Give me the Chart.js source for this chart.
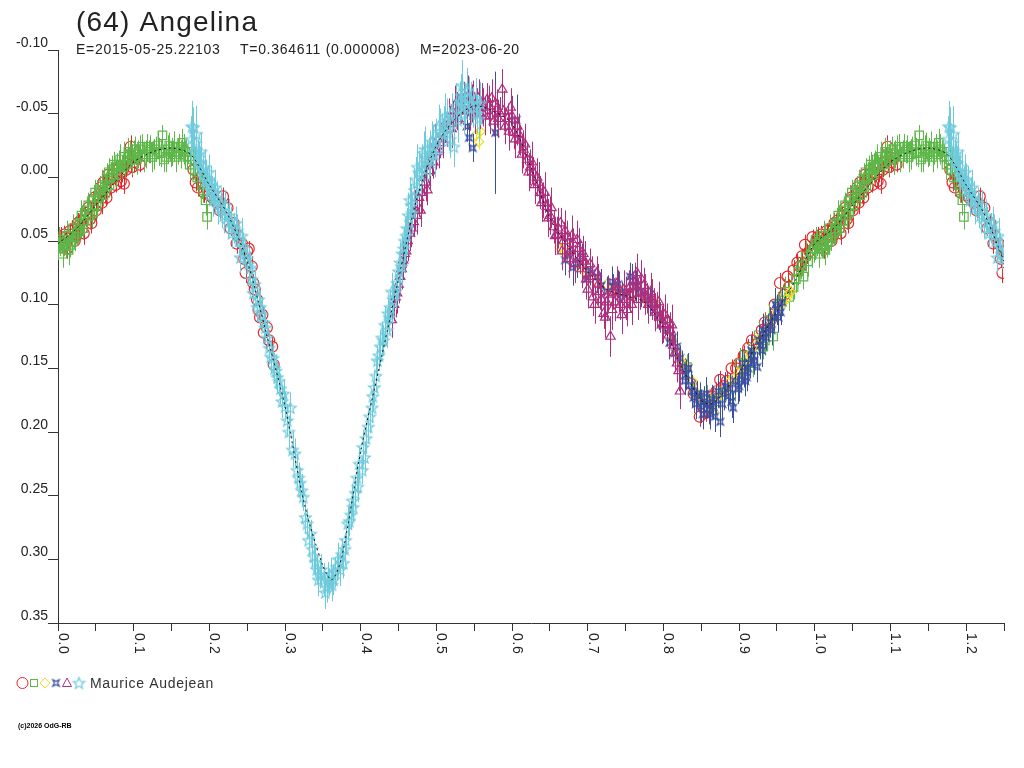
<!DOCTYPE html>
<html>
<head>
<meta charset="utf-8">
<script src="https://cdn.jsdelivr.net/npm/chart.js@4.4.1/dist/chart.umd.min.js"></script>
<style>
  html, body { margin: 0; padding: 0; background: #fff; }
  canvas { display: block; }
</style>
</head>
<body>
<canvas id="curva" width="1024" height="768"></canvas>
<script>
const titulo = '(64) Angelina';
const subtitulo = ['E=2015-05-25.22103', 'T=0.364611 (0.000008)', 'M=2023-06-20'];
const observador = 'Maurice Audejean';
const rodape = '(c)2026 OdG-RB';

const rotulosX = ['0.0', '0.1', '0.2', '0.3', '0.4', '0.5', '0.6', '0.7', '0.8', '0.9', '1.0', '1.1', '1.2'];

// curva ajustada (fase, magnitude)
const ajusteFase = [0, 0.025, 0.05, 0.075, 0.1, 0.125, 0.15, 0.175, 0.2, 0.225, 0.25, 0.275, 0.3, 0.325, 0.35, 0.362, 0.375, 0.4, 0.425, 0.45, 0.475, 0.5, 0.525, 0.55, 0.575, 0.6, 0.625, 0.65, 0.675, 0.7, 0.725, 0.75, 0.775, 0.8, 0.825, 0.85, 0.862, 0.875, 0.9, 0.925, 0.95, 0.975, 1.0];
const ajusteMag = [0.052, 0.040, 0.022, 0.004, -0.012, -0.020, -0.023, -0.018, 0.006, 0.030, 0.066, 0.122, 0.180, 0.255, 0.305, 0.316, 0.298, 0.215, 0.148, 0.080, 0.015, -0.025, -0.046, -0.056, -0.052, -0.042, -0.008, 0.032, 0.055, 0.074, 0.088, 0.093, 0.098, 0.118, 0.150, 0.175, 0.178, 0.172, 0.153, 0.130, 0.105, 0.080, 0.052];

// sessões: [fase, magnitude, erro]
const sessaoVermelha = [
  [0.002, 0.050, 0.006], [0.004, 0.047, 0.008], [0.006, 0.055, 0.006], [0.010, 0.052, 0.007], [0.014, 0.048, 0.006],
  [0.018, 0.045, 0.008], [0.020, 0.041, 0.007], [0.024, 0.046, 0.006], [0.028, 0.038, 0.008], [0.030, 0.034, 0.007],
  [0.034, 0.044, 0.009], [0.036, 0.030, 0.007], [0.040, 0.024, 0.006], [0.042, 0.033, 0.008], [0.046, 0.018, 0.007],
  [0.050, 0.026, 0.008], [0.054, 0.014, 0.006], [0.058, 0.020, 0.009], [0.060, 0.004, 0.007], [0.062, 0.012, 0.008],
  [0.066, -0.002, 0.006], [0.070, 0.008, 0.007], [0.074, -0.006, 0.008], [0.078, -0.003, 0.007], [0.083, 0.003, 0.006],
  [0.087, 0.005, 0.008], [0.092, -0.012, 0.007], [0.096, -0.024, 0.009], [0.098, -0.008, 0.008], [0.104, -0.015, 0.007],
  [0.108, -0.010, 0.006], [0.179, -0.006, 0.008], [0.182, 0.004, 0.007], [0.188, 0.000, 0.006], [0.193, 0.012, 0.008],
  [0.197, 0.010, 0.007], [0.204, 0.016, 0.006], [0.210, 0.020, 0.008], [0.218, 0.015, 0.007], [0.224, 0.024, 0.008],
  [0.232, 0.036, 0.007], [0.238, 0.046, 0.006], [0.243, 0.052, 0.007], [0.248, 0.075, 0.008], [0.250, 0.058, 0.007],
  [0.252, 0.056, 0.006], [0.256, 0.070, 0.008], [0.258, 0.083, 0.007], [0.263, 0.096, 0.008], [0.267, 0.110, 0.007],
  [0.270, 0.108, 0.008], [0.272, 0.122, 0.007], [0.276, 0.118, 0.006], [0.283, 0.133, 0.008], [0.285, 0.147, 0.007],
  [0.008, 0.045, 0.007], [0.012, 0.056, 0.008], [0.016, 0.042, 0.006], [0.022, 0.050, 0.007], [0.026, 0.036, 0.008],
  [0.032, 0.040, 0.006], [0.038, 0.028, 0.007], [0.044, 0.036, 0.008], [0.048, 0.016, 0.006], [0.052, 0.022, 0.007],
  [0.056, 0.008, 0.008], [0.064, 0.016, 0.006], [0.068, 0.002, 0.007], [0.072, -0.002, 0.008], [0.076, 0.006, 0.006],
  [0.080, -0.008, 0.007], [0.085, -0.004, 0.008], [0.090, -0.006, 0.006], [0.094, -0.016, 0.007], [0.101, -0.012, 0.008],
  [0.185, 0.008, 0.007], [0.190, 0.004, 0.006], [0.200, 0.014, 0.008], [0.214, 0.026, 0.007], [0.228, 0.040, 0.006],
  [0.236, 0.052, 0.008], [0.246, 0.064, 0.007], [0.260, 0.088, 0.006], [0.265, 0.104, 0.008], [0.279, 0.128, 0.007],
  [0.828, 0.150, 0.008], [0.840, 0.170, 0.007], [0.848, 0.188, 0.008], [0.856, 0.185, 0.007], [0.865, 0.172, 0.008],
  [0.875, 0.159, 0.007], [0.884, 0.160, 0.008], [0.896, 0.150, 0.007], [0.906, 0.140, 0.008], [0.917, 0.128, 0.007],
  [0.925, 0.130, 0.006], [0.934, 0.114, 0.008], [0.942, 0.112, 0.007], [0.954, 0.083, 0.008], [0.960, 0.092, 0.007],
  [0.966, 0.086, 0.006], [0.972, 0.073, 0.008], [0.977, 0.067, 0.007], [0.983, 0.062, 0.006], [0.987, 0.053, 0.008],
  [0.993, 0.058, 0.007], [0.997, 0.047, 0.006], [0.836, 0.162, 0.007], [0.852, 0.180, 0.008], [0.870, 0.168, 0.007],
  [0.880, 0.164, 0.008], [0.890, 0.150, 0.007], [0.900, 0.146, 0.008], [0.912, 0.134, 0.007], [0.930, 0.120, 0.008],
  [0.947, 0.100, 0.007], [0.964, 0.078, 0.008], [0.980, 0.070, 0.007], [0.990, 0.060, 0.008]
];

const sessaoVerde = [
  [0.000, 0.056, 0.009], [0.003, 0.052, 0.010], [0.006, 0.060, 0.011], [0.010, 0.054, 0.009], [0.014, 0.057, 0.012],
  [0.018, 0.050, 0.010], [0.022, 0.047, 0.011], [0.025, 0.044, 0.010], [0.029, 0.036, 0.012], [0.033, 0.040, 0.009],
  [0.038, 0.026, 0.011], [0.042, 0.030, 0.010], [0.047, 0.018, 0.012], [0.051, 0.022, 0.010], [0.056, 0.010, 0.011],
  [0.060, 0.014, 0.009], [0.065, 0.001, 0.012], [0.068, 0.006, 0.010], [0.072, -0.006, 0.011], [0.076, -0.002, 0.010],
  [0.080, -0.010, 0.011], [0.084, -0.008, 0.009], [0.087, -0.016, 0.012], [0.091, -0.012, 0.010], [0.095, -0.018, 0.011],
  [0.100, -0.019, 0.010], [0.104, -0.014, 0.012], [0.108, -0.022, 0.011], [0.111, -0.024, 0.010], [0.116, -0.018, 0.011],
  [0.120, -0.020, 0.009], [0.124, -0.016, 0.012], [0.129, -0.022, 0.010], [0.134, -0.020, 0.011], [0.138, -0.033, 0.008],
  [0.140, -0.014, 0.010], [0.145, -0.022, 0.011], [0.149, -0.018, 0.010], [0.153, -0.024, 0.012], [0.158, -0.020, 0.010],
  [0.164, -0.027, 0.011], [0.168, -0.020, 0.009], [0.171, -0.016, 0.010], [0.174, -0.010, 0.012], [0.178, -0.014, 0.011],
  [0.184, 0.000, 0.010], [0.190, 0.006, 0.011], [0.195, 0.018, 0.012], [0.197, 0.031, 0.010],
  [0.001, 0.049, 0.010], [0.008, 0.051, 0.011], [0.012, 0.046, 0.012], [0.016, 0.053, 0.010], [0.020, 0.040, 0.011],
  [0.027, 0.042, 0.010], [0.031, 0.030, 0.012], [0.035, 0.034, 0.011], [0.040, 0.022, 0.010], [0.045, 0.028, 0.012],
  [0.049, 0.012, 0.010], [0.053, 0.016, 0.011], [0.058, 0.006, 0.012], [0.062, 0.008, 0.010], [0.067, -0.004, 0.011],
  [0.070, 0.000, 0.012], [0.074, -0.010, 0.010], [0.078, -0.008, 0.011], [0.082, -0.014, 0.012], [0.089, -0.010, 0.010],
  [0.093, -0.020, 0.011], [0.098, -0.014, 0.012], [0.102, -0.022, 0.010], [0.106, -0.018, 0.011], [0.113, -0.016, 0.012],
  [0.118, -0.024, 0.010], [0.122, -0.022, 0.011], [0.127, -0.018, 0.012], [0.132, -0.025, 0.010], [0.136, -0.019, 0.011],
  [0.143, -0.016, 0.012], [0.147, -0.025, 0.010], [0.151, -0.020, 0.011], [0.156, -0.016, 0.012], [0.160, -0.024, 0.010],
  [0.162, -0.018, 0.011], [0.166, -0.022, 0.012], [0.176, -0.020, 0.010], [0.181, -0.006, 0.011], [0.187, -0.004, 0.012],
  [0.192, 0.010, 0.010],
  [0.831, 0.149, 0.010], [0.858, 0.174, 0.011], [0.870, 0.176, 0.010], [0.894, 0.165, 0.011], [0.901, 0.146, 0.012],
  [0.908, 0.150, 0.010], [0.919, 0.146, 0.011], [0.932, 0.133, 0.010], [0.934, 0.128, 0.012], [0.945, 0.125, 0.011],
  [0.952, 0.100, 0.010], [0.961, 0.090, 0.012], [0.966, 0.094, 0.011], [0.972, 0.086, 0.010], [0.978, 0.074, 0.011],
  [0.985, 0.078, 0.010], [0.991, 0.066, 0.012], [0.996, 0.060, 0.011], [0.880, 0.168, 0.011], [0.912, 0.140, 0.010],
  [0.926, 0.124, 0.011], [0.940, 0.112, 0.012], [0.956, 0.097, 0.010], [0.975, 0.080, 0.011], [0.982, 0.070, 0.010],
  [0.988, 0.062, 0.012], [0.999, 0.056, 0.011]
];

const sessaoAmarela = [
  [0.552, -0.033, 0.005], [0.556, -0.028, 0.006], [0.558, -0.036, 0.005], [0.663, 0.055, 0.006], [0.672, 0.060, 0.005],
  [0.690, 0.070, 0.006], [0.712, 0.082, 0.005], [0.735, 0.088, 0.006], [0.760, 0.092, 0.005], [0.790, 0.100, 0.006],
  [0.812, 0.128, 0.005], [0.826, 0.146, 0.006], [0.838, 0.160, 0.005], [0.846, 0.172, 0.006], [0.852, 0.178, 0.005],
  [0.861, 0.180, 0.006], [0.870, 0.172, 0.005], [0.882, 0.168, 0.006], [0.893, 0.158, 0.005], [0.905, 0.150, 0.006],
  [0.916, 0.138, 0.005], [0.928, 0.126, 0.006], [0.940, 0.118, 0.005], [0.951, 0.105, 0.006], [0.962, 0.096, 0.005],
  [0.818, 0.138, 0.005], [0.842, 0.168, 0.006], [0.856, 0.172, 0.005], [0.866, 0.184, 0.006], [0.876, 0.170, 0.005],
  [0.888, 0.160, 0.006], [0.900, 0.152, 0.005], [0.910, 0.144, 0.006], [0.922, 0.132, 0.005], [0.934, 0.124, 0.006],
  [0.946, 0.110, 0.005], [0.956, 0.100, 0.006], [0.968, 0.090, 0.005], [0.700, 0.076, 0.006], [0.725, 0.084, 0.005],
  [0.748, 0.090, 0.006], [0.775, 0.096, 0.005], [0.800, 0.112, 0.006]
];

const sessaoAzul = [
  [0.532, -0.063, 0.012], [0.536, -0.052, 0.010], [0.540, -0.040, 0.012], [0.543, -0.031, 0.010], [0.548, -0.023, 0.011],
  [0.578, -0.035, 0.048], [0.606, -0.045, 0.020], [0.670, 0.065, 0.012], [0.680, 0.071, 0.014], [0.692, 0.062, 0.010],
  [0.703, 0.073, 0.012], [0.706, 0.075, 0.011], [0.718, 0.085, 0.013], [0.732, 0.082, 0.012], [0.734, 0.086, 0.010],
  [0.745, 0.094, 0.012], [0.756, 0.078, 0.011], [0.758, 0.081, 0.013], [0.770, 0.090, 0.012], [0.782, 0.098, 0.011],
  [0.794, 0.108, 0.012], [0.805, 0.120, 0.013], [0.812, 0.126, 0.011], [0.818, 0.133, 0.012], [0.822, 0.142, 0.010],
  [0.825, 0.149, 0.013], [0.830, 0.155, 0.012], [0.836, 0.163, 0.011], [0.840, 0.173, 0.012], [0.845, 0.170, 0.010],
  [0.850, 0.180, 0.013], [0.854, 0.176, 0.012], [0.858, 0.178, 0.011], [0.862, 0.186, 0.012], [0.866, 0.180, 0.010],
  [0.870, 0.175, 0.011], [0.875, 0.192, 0.012], [0.880, 0.170, 0.013], [0.885, 0.172, 0.011], [0.892, 0.181, 0.012],
  [0.895, 0.160, 0.011], [0.898, 0.166, 0.012], [0.902, 0.159, 0.010], [0.906, 0.152, 0.013], [0.910, 0.157, 0.011],
  [0.914, 0.146, 0.012], [0.918, 0.140, 0.010], [0.924, 0.149, 0.012], [0.928, 0.132, 0.011], [0.932, 0.120, 0.013],
  [0.936, 0.126, 0.010], [0.941, 0.114, 0.012], [0.946, 0.110, 0.011], [0.950, 0.104, 0.012], [0.955, 0.106, 0.010],
  [0.675, 0.060, 0.012], [0.686, 0.068, 0.011], [0.698, 0.080, 0.012], [0.712, 0.078, 0.013], [0.725, 0.090, 0.012],
  [0.740, 0.084, 0.011], [0.750, 0.090, 0.012], [0.764, 0.086, 0.013], [0.776, 0.094, 0.012], [0.788, 0.100, 0.011],
  [0.800, 0.112, 0.012], [0.808, 0.130, 0.013], [0.815, 0.138, 0.012], [0.828, 0.160, 0.011], [0.833, 0.150, 0.012],
  [0.838, 0.168, 0.013], [0.843, 0.178, 0.012], [0.848, 0.172, 0.011], [0.852, 0.186, 0.012], [0.856, 0.170, 0.013],
  [0.860, 0.182, 0.012], [0.864, 0.174, 0.011], [0.868, 0.188, 0.012], [0.872, 0.168, 0.013], [0.878, 0.178, 0.012],
  [0.882, 0.164, 0.011], [0.888, 0.166, 0.012], [0.890, 0.176, 0.013], [0.900, 0.164, 0.012], [0.904, 0.146, 0.011],
  [0.908, 0.160, 0.012], [0.912, 0.150, 0.013], [0.916, 0.136, 0.012], [0.920, 0.144, 0.011], [0.926, 0.128, 0.012],
  [0.930, 0.136, 0.013], [0.934, 0.122, 0.012], [0.938, 0.118, 0.011], [0.943, 0.120, 0.012], [0.948, 0.100, 0.013],
  [0.952, 0.110, 0.012], [0.957, 0.098, 0.011]
];

const sessaoMagenta = [
  [0.441, 0.112, 0.014], [0.444, 0.100, 0.013], [0.448, 0.091, 0.016], [0.452, 0.078, 0.012], [0.456, 0.065, 0.015],
  [0.460, 0.058, 0.013], [0.465, 0.044, 0.014], [0.470, 0.035, 0.012], [0.474, 0.030, 0.015], [0.479, 0.026, 0.013],
  [0.483, 0.000, 0.014], [0.488, 0.010, 0.012], [0.492, -0.005, 0.015], [0.496, -0.012, 0.013], [0.500, -0.020, 0.014],
  [0.505, -0.027, 0.012], [0.509, -0.030, 0.015], [0.514, -0.037, 0.013], [0.518, -0.042, 0.014], [0.522, -0.048, 0.012],
  [0.527, -0.052, 0.015], [0.531, -0.055, 0.013], [0.536, -0.061, 0.014], [0.540, -0.058, 0.012], [0.545, -0.052, 0.015],
  [0.549, -0.063, 0.013], [0.553, -0.056, 0.014], [0.558, -0.050, 0.012], [0.562, -0.055, 0.015], [0.567, -0.061, 0.013],
  [0.571, -0.048, 0.014], [0.576, -0.044, 0.012], [0.580, -0.054, 0.015], [0.584, -0.050, 0.013], [0.587, -0.069, 0.016],
  [0.591, -0.040, 0.014], [0.594, -0.046, 0.012], [0.598, -0.055, 0.015], [0.602, -0.035, 0.013], [0.607, -0.040, 0.014],
  [0.611, -0.029, 0.012], [0.615, -0.022, 0.015], [0.620, -0.014, 0.013], [0.624, -0.008, 0.014], [0.628, -0.004, 0.012],
  [0.633, 0.000, 0.015], [0.637, 0.012, 0.013], [0.641, 0.018, 0.014], [0.646, 0.023, 0.012], [0.650, 0.030, 0.015],
  [0.655, 0.039, 0.013], [0.659, 0.045, 0.014], [0.664, 0.036, 0.012], [0.668, 0.050, 0.015], [0.673, 0.047, 0.013],
  [0.677, 0.058, 0.014], [0.681, 0.052, 0.012], [0.686, 0.049, 0.015], [0.690, 0.063, 0.013], [0.694, 0.060, 0.014],
  [0.698, 0.080, 0.016], [0.703, 0.068, 0.012], [0.707, 0.094, 0.015], [0.712, 0.075, 0.013], [0.716, 0.090, 0.014],
  [0.721, 0.107, 0.012], [0.725, 0.098, 0.015], [0.730, 0.125, 0.016], [0.734, 0.091, 0.013], [0.738, 0.084, 0.014],
  [0.743, 0.100, 0.012], [0.748, 0.088, 0.015], [0.752, 0.104, 0.013], [0.756, 0.092, 0.014], [0.760, 0.086, 0.012],
  [0.765, 0.075, 0.015], [0.769, 0.091, 0.013], [0.774, 0.085, 0.014], [0.778, 0.095, 0.012], [0.783, 0.090, 0.015],
  [0.787, 0.100, 0.013], [0.792, 0.104, 0.014], [0.796, 0.110, 0.012], [0.800, 0.115, 0.015], [0.805, 0.112, 0.013],
  [0.809, 0.120, 0.014], [0.813, 0.132, 0.016], [0.818, 0.146, 0.015], [0.822, 0.168, 0.014],
  [0.446, 0.094, 0.016], [0.450, 0.084, 0.015], [0.454, 0.072, 0.016], [0.458, 0.060, 0.015], [0.462, 0.050, 0.016],
  [0.467, 0.040, 0.015], [0.472, 0.026, 0.016], [0.477, 0.016, 0.015], [0.481, 0.012, 0.016], [0.486, 0.004, 0.015],
  [0.490, -0.010, 0.016], [0.494, -0.016, 0.015], [0.498, -0.026, 0.016], [0.503, -0.022, 0.015], [0.507, -0.034, 0.016],
  [0.511, -0.042, 0.015], [0.516, -0.046, 0.016], [0.520, -0.038, 0.015], [0.524, -0.056, 0.016], [0.529, -0.046, 0.015],
  [0.533, -0.058, 0.016], [0.538, -0.052, 0.015], [0.542, -0.064, 0.016], [0.547, -0.058, 0.015], [0.551, -0.050, 0.016],
  [0.556, -0.062, 0.015], [0.560, -0.058, 0.016], [0.564, -0.048, 0.015], [0.569, -0.056, 0.016], [0.573, -0.062, 0.015],
  [0.578, -0.058, 0.016], [0.582, -0.046, 0.015], [0.589, -0.052, 0.016], [0.596, -0.036, 0.015], [0.600, -0.048, 0.016],
  [0.604, -0.030, 0.015], [0.609, -0.034, 0.016], [0.613, -0.018, 0.015], [0.617, -0.026, 0.016], [0.622, -0.004, 0.015],
  [0.626, -0.012, 0.016], [0.630, 0.006, 0.015], [0.635, 0.004, 0.016], [0.639, 0.020, 0.015], [0.643, 0.012, 0.016],
  [0.648, 0.032, 0.015], [0.652, 0.024, 0.016], [0.657, 0.046, 0.015], [0.661, 0.040, 0.016], [0.666, 0.058, 0.015],
  [0.670, 0.042, 0.016], [0.675, 0.064, 0.015], [0.679, 0.046, 0.016], [0.683, 0.068, 0.015], [0.688, 0.056, 0.016],
  [0.692, 0.072, 0.015], [0.696, 0.066, 0.016], [0.700, 0.088, 0.015], [0.705, 0.078, 0.016], [0.709, 0.100, 0.015],
  [0.714, 0.084, 0.016], [0.718, 0.096, 0.015], [0.723, 0.110, 0.016], [0.727, 0.092, 0.015], [0.732, 0.104, 0.016],
  [0.736, 0.098, 0.015], [0.741, 0.090, 0.016], [0.745, 0.108, 0.015], [0.750, 0.096, 0.016], [0.754, 0.088, 0.015],
  [0.758, 0.100, 0.016], [0.763, 0.082, 0.015], [0.767, 0.096, 0.016], [0.771, 0.080, 0.015], [0.776, 0.092, 0.016],
  [0.780, 0.100, 0.015], [0.785, 0.096, 0.016], [0.789, 0.106, 0.015], [0.794, 0.098, 0.016], [0.798, 0.116, 0.015],
  [0.802, 0.108, 0.016], [0.807, 0.124, 0.015], [0.811, 0.116, 0.016], [0.815, 0.138, 0.015], [0.820, 0.152, 0.016]
];

const sessaoCiano = [
  [0.176, -0.030, 0.018], [0.179, -0.039, 0.016], [0.182, -0.027, 0.014], [0.185, -0.018, 0.012], [0.188, -0.011, 0.013],
  [0.191, -0.005, 0.012], [0.194, -0.008, 0.014], [0.197, 0.004, 0.012], [0.200, 0.002, 0.013], [0.203, 0.010, 0.011],
  [0.206, 0.012, 0.012], [0.210, 0.016, 0.013], [0.215, 0.020, 0.012], [0.219, 0.030, 0.014], [0.224, 0.036, 0.012],
  [0.228, 0.034, 0.011], [0.233, 0.040, 0.012], [0.237, 0.042, 0.013], [0.241, 0.063, 0.012], [0.245, 0.055, 0.011],
  [0.250, 0.064, 0.012], [0.254, 0.071, 0.013], [0.258, 0.091, 0.012], [0.263, 0.102, 0.011], [0.267, 0.102, 0.013],
  [0.272, 0.114, 0.012], [0.276, 0.126, 0.011], [0.281, 0.141, 0.013], [0.286, 0.150, 0.012], [0.290, 0.157, 0.013],
  [0.294, 0.166, 0.012], [0.298, 0.170, 0.011], [0.303, 0.191, 0.013], [0.307, 0.181, 0.012], [0.310, 0.214, 0.014],
  [0.313, 0.217, 0.012], [0.316, 0.230, 0.013], [0.320, 0.240, 0.012], [0.324, 0.251, 0.011], [0.327, 0.267, 0.013],
  [0.331, 0.285, 0.012], [0.334, 0.280, 0.011], [0.338, 0.298, 0.013], [0.342, 0.308, 0.012], [0.346, 0.312, 0.011],
  [0.351, 0.316, 0.013], [0.355, 0.322, 0.012], [0.358, 0.318, 0.011], [0.361, 0.312, 0.013], [0.364, 0.316, 0.012],
  [0.368, 0.306, 0.011], [0.373, 0.308, 0.013], [0.377, 0.303, 0.012], [0.380, 0.285, 0.011], [0.383, 0.272, 0.013],
  [0.387, 0.265, 0.012], [0.390, 0.259, 0.011], [0.393, 0.248, 0.013], [0.396, 0.243, 0.012], [0.402, 0.230, 0.011],
  [0.403, 0.212, 0.014], [0.407, 0.205, 0.012], [0.410, 0.196, 0.013], [0.415, 0.181, 0.012], [0.418, 0.165, 0.014],
  [0.422, 0.144, 0.012], [0.426, 0.133, 0.013], [0.430, 0.128, 0.012], [0.435, 0.120, 0.014], [0.436, 0.107, 0.012],
  [0.439, 0.102, 0.013], [0.443, 0.096, 0.015], [0.448, 0.083, 0.014], [0.452, 0.067, 0.016], [0.455, 0.060, 0.015],
  [0.458, 0.050, 0.017], [0.461, 0.040, 0.016], [0.465, 0.018, 0.018], [0.468, 0.028, 0.016], [0.471, 0.010, 0.017],
  [0.475, -0.008, 0.018], [0.479, -0.002, 0.016], [0.483, -0.019, 0.017], [0.487, -0.012, 0.016], [0.492, -0.019, 0.018],
  [0.496, -0.024, 0.017], [0.500, -0.030, 0.016], [0.505, -0.036, 0.018], [0.510, -0.040, 0.016], [0.514, -0.045, 0.017],
  [0.518, -0.030, 0.015], [0.523, -0.024, 0.016], [0.528, -0.045, 0.018], [0.531, -0.060, 0.015], [0.534, -0.072, 0.020],
  [0.538, -0.058, 0.016], [0.543, -0.062, 0.017], [0.549, -0.055, 0.016], [0.554, -0.050, 0.015], [0.558, -0.058, 0.017],
  [0.177, -0.040, 0.020], [0.180, -0.020, 0.018], [0.183, -0.034, 0.022], [0.186, -0.012, 0.016], [0.189, -0.020, 0.015],
  [0.192, -0.002, 0.014], [0.195, 0.002, 0.016], [0.199, -0.004, 0.014], [0.202, 0.006, 0.015], [0.205, 0.018, 0.013],
  [0.208, 0.008, 0.014], [0.212, 0.024, 0.013], [0.217, 0.026, 0.014], [0.221, 0.022, 0.012], [0.226, 0.030, 0.013],
  [0.230, 0.044, 0.012], [0.235, 0.036, 0.013], [0.239, 0.050, 0.012], [0.243, 0.046, 0.014], [0.247, 0.060, 0.012],
  [0.252, 0.068, 0.013], [0.256, 0.080, 0.012], [0.260, 0.084, 0.013], [0.265, 0.096, 0.012], [0.269, 0.108, 0.013],
  [0.274, 0.118, 0.012], [0.279, 0.134, 0.013], [0.284, 0.142, 0.012], [0.288, 0.152, 0.013], [0.292, 0.160, 0.012],
  [0.296, 0.176, 0.013], [0.300, 0.180, 0.012], [0.305, 0.200, 0.013], [0.318, 0.236, 0.012], [0.322, 0.246, 0.013],
  [0.329, 0.272, 0.012], [0.336, 0.292, 0.013], [0.340, 0.302, 0.012], [0.344, 0.316, 0.013], [0.348, 0.308, 0.012],
  [0.353, 0.326, 0.013], [0.357, 0.314, 0.012], [0.362, 0.320, 0.013], [0.366, 0.310, 0.012], [0.370, 0.300, 0.013],
  [0.375, 0.296, 0.012], [0.379, 0.292, 0.013], [0.385, 0.270, 0.012], [0.389, 0.254, 0.013], [0.395, 0.236, 0.012],
  [0.398, 0.225, 0.013], [0.405, 0.220, 0.012], [0.412, 0.188, 0.013], [0.416, 0.172, 0.012], [0.420, 0.156, 0.013],
  [0.424, 0.140, 0.012], [0.428, 0.126, 0.013], [0.432, 0.116, 0.014], [0.438, 0.110, 0.013], [0.441, 0.090, 0.015],
  [0.446, 0.090, 0.014], [0.450, 0.074, 0.016], [0.454, 0.070, 0.015], [0.457, 0.056, 0.017], [0.460, 0.046, 0.016],
  [0.463, 0.030, 0.018], [0.467, 0.022, 0.017], [0.470, 0.016, 0.016], [0.473, 0.002, 0.018], [0.477, -0.004, 0.017],
  [0.481, -0.010, 0.016], [0.485, -0.022, 0.018], [0.490, -0.014, 0.017], [0.494, -0.028, 0.016], [0.498, -0.018, 0.018],
  [0.503, -0.040, 0.017], [0.508, -0.034, 0.016], [0.512, -0.048, 0.018], [0.516, -0.038, 0.017], [0.520, -0.050, 0.016],
  [0.526, -0.056, 0.018], [0.533, -0.064, 0.017], [0.536, -0.050, 0.016], [0.541, -0.068, 0.018], [0.546, -0.058, 0.017],
  [0.552, -0.062, 0.016], [0.556, -0.046, 0.018]
];

const corVermelha = '#e8262b';
const corVerde = '#5cb848';
const corAmarela = '#f0e01a';
const corAzul = '#3a4fa0';
const corMagenta = '#b02e7e';
const corCiano = '#6fcbdc';
const corTexto = '#222';
const fonte = '"Liberation Sans", Arial, sans-serif';

// repete a fase 0 - 0.25 depois de 1.0
function dobrar(sessao) {
  const pontos = sessao.map(([f, m, e]) => ({ x: f, y: m, e }));
  const extra = pontos.filter((p) => p.x <= 0.25).map((p) => ({ ...p, x: p.x + 1 }));
  return pontos.concat(extra);
}

const pontosAjuste = ajusteFase.map((f, i) => ({ x: f, y: ajusteMag[i] }));
const curvaAjuste = pontosAjuste.concat(
  pontosAjuste.filter((p) => p.x > 0 && p.x <= 0.25).map((p) => ({ x: p.x + 1, y: p.y }))
);

function marcador(tam, desenho) {
  const c = document.createElement('canvas');
  c.width = tam;
  c.height = tam;
  const g = c.getContext('2d');
  desenho(g, tam / 2);
  return c;
}

const estrelaCiano = marcador(15, (g, m) => {
  g.strokeStyle = corCiano;
  g.lineWidth = 1.2;
  g.beginPath();
  for (let i = 0; i < 10; i++) {
    const r = i % 2 ? 2.6 : 6;
    const a = -Math.PI / 2 + (i * Math.PI) / 5;
    const px = m + r * Math.cos(a);
    const py = m + 0.5 + r * Math.sin(a);
    if (i === 0) g.moveTo(px, py); else g.lineTo(px, py);
  }
  g.closePath();
  g.stroke();
});

const estrelaAzul = marcador(11, (g, m) => {
  g.strokeStyle = corAzul;
  g.lineWidth = 1.2;
  g.beginPath();
  for (let i = 0; i < 8; i++) {
    const r = i % 2 ? 1.6 : 4.6;
    const a = (i * Math.PI) / 4 + Math.PI / 4;
    const px = m + r * Math.cos(a);
    const py = m + r * Math.sin(a);
    if (i === 0) g.moveTo(px, py); else g.lineTo(px, py);
  }
  g.closePath();
  g.stroke();
});

function sessao(dados, cor, estilo, raio) {
  return {
    type: 'scatter',
    data: dobrar(dados),
    comErro: true,
    borderColor: cor,
    backgroundColor: 'rgba(0,0,0,0)',
    pointStyle: estilo,
    pointRadius: raio,
    pointBorderWidth: 1.2
  };
}

//Barras de erro desenhadas antes dos marcadores de cada sessão
const barrasErro = {
  id: 'barrasErro',
  beforeDatasetDraw(chart, args) {
    const ds = chart.data.datasets[args.index];
    if (!ds.comErro) return;
    const { ctx, chartArea, scales } = chart;
    ctx.save();
    ctx.beginPath();
    ctx.rect(chartArea.left, chartArea.top, chartArea.width, chartArea.height);
    ctx.clip();
    ctx.strokeStyle = ds.borderColor;
    ctx.lineWidth = 1;
    ctx.beginPath();
    ds.data.forEach((p) => {
      const px = Math.round(scales.x.getPixelForValue(p.x)) + 0.5;
      ctx.moveTo(px, scales.y.getPixelForValue(p.y - p.e));
      ctx.lineTo(px, scales.y.getPixelForValue(p.y + p.e));
    });
    ctx.stroke();
    ctx.restore();
  }
};

//Textos: título, rótulos do eixo x, legenda e rodapé
const textos = {
  id: 'textos',
  afterDraw(chart) {
    const { ctx, chartArea, scales } = chart;
    ctx.save();
    ctx.fillStyle = corTexto;
    ctx.textAlign = 'left';
    ctx.textBaseline = 'alphabetic';
    ctx.font = '28px ' + fonte;
    ctx.letterSpacing = '1.2px';
    ctx.fillText(titulo, 76, 31);
    ctx.font = '14px ' + fonte;
    ctx.letterSpacing = '0.7px';
    ctx.fillText(subtitulo[0], 76, 54);
    ctx.fillText(subtitulo[1], 240, 54);
    ctx.fillText(subtitulo[2], 420, 54);

    rotulosX.forEach((r) => {
      const px = scales.x.getPixelForValue(parseFloat(r));
      ctx.save();
      ctx.translate(px + 1, chartArea.bottom + 10);
      ctx.rotate(Math.PI / 2);
      ctx.fillText(r, 0, 0);
      ctx.restore();
    });

    // legenda
    const ly = 683;
    ctx.lineWidth = 1;
    ctx.strokeStyle = corVermelha;
    ctx.beginPath();
    ctx.arc(22.5, ly, 5.5, 0, Math.PI * 2);
    ctx.stroke();
    ctx.strokeStyle = corVerde;
    ctx.strokeRect(30.5, ly - 3.5, 7, 7);
    ctx.strokeStyle = corAmarela;
    ctx.beginPath();
    ctx.moveTo(45, ly - 5); ctx.lineTo(50, ly); ctx.lineTo(45, ly + 5); ctx.lineTo(40, ly); ctx.closePath();
    ctx.stroke();
    ctx.drawImage(estrelaAzul, 56 - 5.5, ly - 5.5);
    ctx.strokeStyle = corMagenta;
    ctx.beginPath();
    ctx.moveTo(67, ly - 5); ctx.lineTo(71.5, ly + 3.5); ctx.lineTo(62.5, ly + 3.5); ctx.closePath();
    ctx.stroke();
    ctx.drawImage(estrelaCiano, 79 - 7.5, ly - 7.5);
    ctx.fillStyle = '#333';
    ctx.fillText(observador, 90, ly + 5);

    ctx.font = 'bold 7px ' + fonte;
    ctx.letterSpacing = '0px';
    ctx.fillStyle = '#000';
    ctx.fillText(rodape, 18, 728);
    ctx.restore();
  }
};

const ctx = document.getElementById('curva').getContext('2d');

new Chart(ctx, {
  data: {
    datasets: [
      {
        type: 'line',
        data: curvaAjuste,
        borderColor: '#111',
        borderWidth: 1,
        borderDash: [2, 3],
        pointRadius: 0,
        tension: 0.3,
        fill: false
      },
      sessao(sessaoCiano, corCiano, estrelaCiano, 5),
      sessao(sessaoMagenta, corMagenta, 'triangle', 5.5),
      sessao(sessaoAzul, corAzul, estrelaAzul, 4),
      sessao(sessaoAmarela, corAmarela, 'rectRot', 5),
      sessao(sessaoVerde, corVerde, 'rect', 6),
      sessao(sessaoVermelha, corVermelha, 'circle', 5.5)
    ]
  },
  options: {
    responsive: false,
    animation: false,
    events: [],
    devicePixelRatio: 1,
    layout: { padding: { top: 50, right: 20, left: 0, bottom: 0 } },
    plugins: {
      legend: { display: false },
      tooltip: { enabled: false },
      title: { display: false }
    },
    scales: {
      x: {
        type: 'linear',
        min: 0,
        max: 1.25,
        ticks: { stepSize: 0.05, display: false },
        grid: { drawOnChartArea: false, drawTicks: true, tickLength: 8, color: '#333' },
        border: { color: '#333' },
        afterFit: (s) => { s.height = 145; }
      },
      y: {
        type: 'linear',
        reverse: true,
        min: -0.10,
        max: 0.35,
        ticks: {
          stepSize: 0.05,
          callback: (v) => (Math.abs(v) < 1e-9 ? 0 : v).toFixed(2),
          color: corTexto,
          font: { family: fonte, size: 14 },
          padding: 0,
          labelOffset: -7
        },
        grid: { drawOnChartArea: false, drawTicks: true, tickLength: 10, color: '#333' },
        border: { color: '#333' },
        afterFit: (s) => { s.width = 58; }
      }
    }
  },
  plugins: [barrasErro, textos]
});
</script>
</body>
</html>
